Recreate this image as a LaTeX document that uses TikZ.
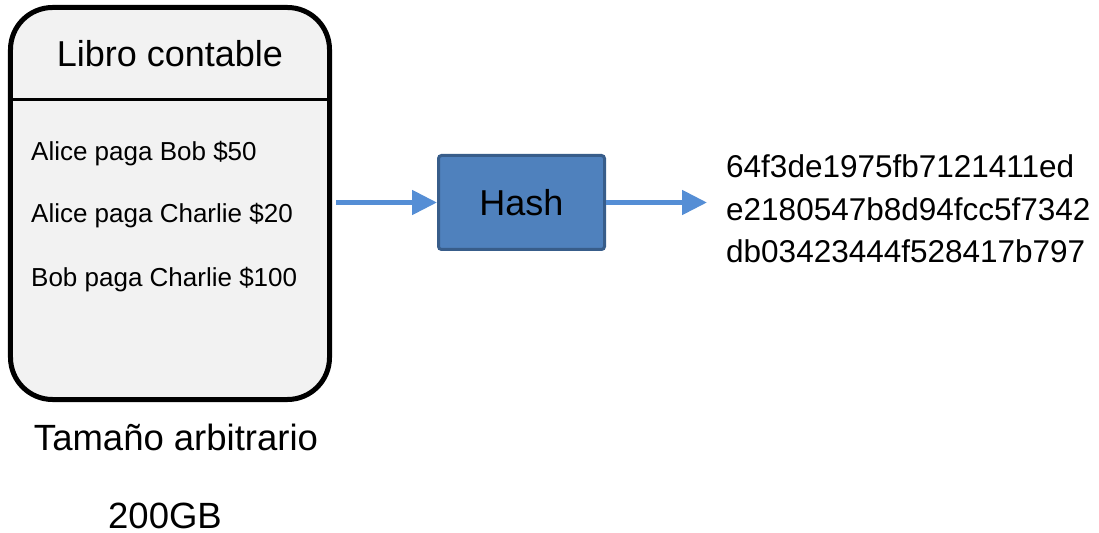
\documentclass[tikz,border=0pt]{standalone}
\usepackage{fontspec}
\setmainfont{Liberation Sans}
\usetikzlibrary{arrows.meta}
\definecolor{ledgerfill}{HTML}{F2F2F2}
\definecolor{hashfill}{HTML}{4F81BD}
\definecolor{hashedge}{HTML}{385D8A}
\definecolor{flow}{HTML}{558ED5}
\newcommand{\fsz}[1]{\fontsize{#1bp}{1.2\dimexpr#1bp\relax}\selectfont}
\tikzset{
  ledgerbox/.style={draw=black, line width=5bp, fill=ledgerfill, rounded corners=42bp,
    minimum width=319bp, minimum height=392bp, inner sep=0pt},
  title/.style={anchor=base, inner sep=0pt, font=\fsz{36}},
  entry/.style={anchor=base west, inner sep=0pt, font=\fsz{26}},
  hashbox/.style={draw=hashedge, line width=3bp, fill=hashfill, rounded corners=3bp,
    minimum width=166bp, minimum height=94bp, inner sep=0pt, font=\fsz{36}},
  digest/.style={anchor=base west, inner sep=0pt, font=\fsz{31.5}},
  caption/.style={anchor=base, inner sep=0pt, font=\fsz{36.5}},
  flowarrow/.style={draw=flow, line width=5bp, -{Triangle[length=25bp, width=24bp, fill=flow]}}
}
\begin{document}
\begin{tikzpicture}[x=1bp, y=-1bp]
  \useasboundingbox (0,0) rectangle (1099,533);

  % ledger card with its header rule
  \node[ledgerbox] (ledger) at (170,203.5) {};
  \coordinate (ruleL) at (10.5,100);
  \coordinate (ruleR) at (329.5,100);
  \draw[line width=3bp] (ruleL) -- (ruleR);
  \node[title] (ledgertitle) at (170,67) {Libro contable};

  \node[entry] (tx1) at (31,161) {Alice paga Bob \$50};
  \node[entry] (tx2) at (31,223) {Alice paga Charlie \$20};
  \node[entry] (tx3) at (31,287) {Bob paga Charlie \$100};

  % hash function
  \node[hashbox] (hash) at (521.5,202.5) {Hash};

  \coordinate (inStart) at (336,202.5);
  \coordinate (outEnd) at (707,202.5);
  \draw[flowarrow] (inStart) -- (hash.west);
  \draw[flowarrow] (hash.east) -- (outEnd);

  % resulting digest
  \node[digest] (d1) at (726,178) {64f3de1975fb7121411ed};
  \node[digest] (d2) at (726,221) {e2180547b8d94fcc5f7342};
  \node[digest] (d3) at (726,263) {db03423444f528417b797};

  % captions under the ledger
  \node[caption] (size) at (176,450) {Tamaño arbitrario};
  \node[caption] (gb) at (165,528) {200GB};
\end{tikzpicture}
\end{document}
